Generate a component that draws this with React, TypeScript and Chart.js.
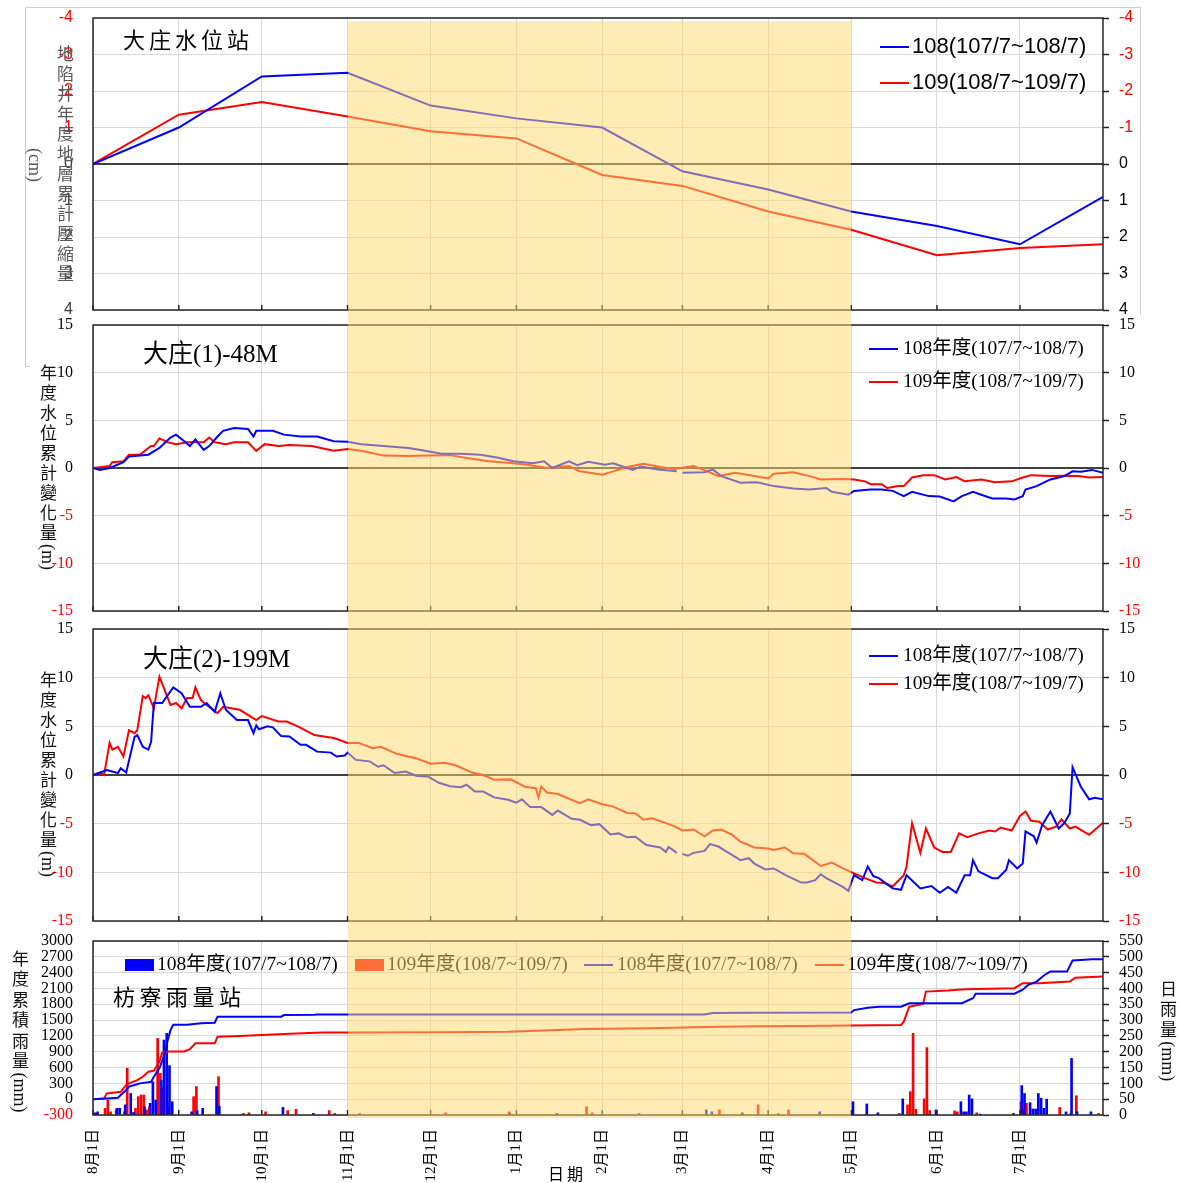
import React, { useEffect, useRef } from "react";
import { Chart, registerables } from "chart.js";

Chart.register(...registerables);

const SERIF = '"Liberation Serif", "Noto Sans CJK TC", serif';
const SANS = '"Liberation Sans", "Noto Sans CJK TC", sans-serif';
const CJK = '"Noto Sans CJK TC", "Liberation Serif", serif';

const BLUE = "#0000FF";
const RED = "#FF0000";
const GRID = "#d9d9d9";
const DARK = "#262626";

// ---- x axis (days counted from 8月1日) ----
const X_MAX = 365;
const monthTickDays = [0, 31, 61, 92, 122, 153, 184, 213, 244, 274, 305, 335];
const monthLabels = ["8月1日", "9月1日", "10月1日", "11月1日", "12月1日", "1月1日", "2月1日", "3月1日", "4月1日", "5月1日", "6月1日", "7月1日"];
const dryStartDay = 92; // 11月1日
const dryEndDay = 274; // 5月1日

// ---- Panel 1: 大庄水位站 地層累計壓縮量 (cm) ----
const subsDays = [0, 31, 61, 92, 122, 153, 184, 213, 244, 274, 305, 335, 365];
const subs108 = [0, -1.0, -2.4, -2.5, -1.6, -1.25, -1.0, 0.2, 0.7, 1.3, 1.7, 2.2, 0.9];
const subs109 = [0, -1.35, -1.7, -1.3, -0.9, -0.7, 0.3, 0.6, 1.3, 1.8, 2.5, 2.3, 2.2];

// ---- Panel 2: 大庄(1)-48M  [day, value] ----
const well48_108 = [[0, 0], [2.5, -0.2], [6, 0], [11, 0.6], [13, 1.2], [20, 1.4], [24, 2.1], [28, 3.2], [30, 3.5], [33, 2.8], [35, 2.3], [37, 3.0], [40, 1.9], [42, 2.3], [45, 3.3], [47, 3.9], [51, 4.2], [56, 4.1], [58, 3.3], [59, 3.9], [65, 3.9], [69, 3.5], [75, 3.3], [81, 3.3], [87, 2.8], [92, 2.75], [97, 2.5], [105, 2.3], [114, 2.1], [120, 1.8], [126, 1.5], [133, 1.5], [140, 1.4], [146, 1.1], [152, 0.7], [159, 0.5], [163, 0.7], [166, 0.0], [172, 0.7], [175, 0.3], [179, 0.65], [185, 0.35], [188, 0.5], [195, -0.2], [198, 0.15], [204, -0.15], [211, -0.35], [212, null], [213, -0.5], [221, -0.45], [224, -0.15], [227, -0.85], [234, -1.55], [240, -1.5], [246, -1.9], [253, -2.15], [259, -2.25], [265, -2.1], [267, -2.5], [273, -2.8], [275, -2.4], [281, -2.25], [285, -2.25], [289, -2.4], [293, -2.95], [296, -2.5], [302, -2.95], [306, -3.0], [311, -3.5], [314, -2.95], [318, -2.5], [321, -2.8], [325, -3.2], [330, -3.2], [333, -3.3], [336, -2.95], [337, -2.25], [341, -1.9], [346, -1.2], [349, -1.0], [351, -0.85], [354, -0.35], [357, -0.4], [361, -0.2], [365, -0.5]];
const well48_109 = [[0, 0], [6, 0.2], [7, 0.6], [11, 0.7], [13, 1.4], [17, 1.4], [21, 2.3], [22, 2.3], [24, 3.1], [27, 2.7], [30, 2.5], [34, 2.7], [40, 2.7], [42, 3.2], [44, 2.7], [48, 2.5], [51, 2.7], [56, 2.7], [59, 1.8], [62, 2.5], [67, 2.3], [71, 2.4], [79, 2.3], [87, 1.8], [92, 2.0], [97, 1.8], [105, 1.3], [114, 1.25], [121, 1.3], [129, 1.35], [135, 1.05], [143, 0.7], [150, 0.55], [157, 0.35], [164, 0.0], [172, 0.2], [176, -0.35], [184, -0.7], [188, -0.35], [193, 0.1], [199, 0.45], [205, 0.1], [210, -0.1], [217, 0.2], [222, -0.35], [226, -0.85], [232, -0.5], [239, -0.85], [244, -1.1], [246, -0.6], [253, -0.45], [259, -0.85], [263, -1.2], [271, -1.15], [275, -1.2], [279, -1.4], [281, -1.7], [285, -1.7], [287, -2.1], [291, -1.9], [293, -1.9], [296, -1.0], [300, -0.75], [304, -0.75], [308, -1.2], [312, -0.95], [315, -1.4], [321, -1.2], [326, -1.5], [332, -1.4], [336, -1.0], [339, -0.75], [346, -0.85], [351, -0.8], [356, -0.85], [360, -1.0], [365, -0.95]];

// ---- Panel 3: 大庄(2)-199M  [day, value] ----
const well199_108 = [[0, 0], [5, 0.5], [9, 0.2], [10, 0.7], [12, 0.25], [15, 3.9], [16, 4.1], [18, 2.9], [20, 2.6], [21, 3.4], [22, 7.4], [25, 7.4], [29, 9.0], [32, 8.4], [35, 7.0], [39, 7.0], [41, 7.4], [44, 6.5], [46, 8.4], [48, 6.7], [52, 5.65], [56, 5.65], [58, 4.3], [59, 5.1], [60, 4.7], [63, 5.0], [65, 4.9], [68, 4.0], [71, 3.95], [75, 3.1], [77, 3.1], [81, 2.4], [86, 2.3], [88, 1.9], [91, 2.0], [92, 2.3], [95, 1.55], [100, 1.4], [103, 0.85], [105, 1.0], [109, 0.2], [113, 0.35], [117, -0.1], [121, -0.15], [125, -0.8], [129, -1.15], [133, -1.25], [135, -1.0], [138, -1.7], [141, -1.7], [145, -2.3], [150, -2.55], [153, -2.85], [155, -2.5], [158, -3.3], [162, -3.3], [166, -4.1], [168, -3.65], [173, -4.5], [176, -4.6], [180, -5.15], [183, -5.05], [187, -6.1], [190, -6.0], [193, -6.4], [196, -6.35], [200, -7.2], [205, -7.45], [207, -7.9], [208, -7.4], [211, -8.0], [212, null], [213, -8.1], [215, -8.3], [217, -8.0], [221, -7.8], [223, -7.1], [226, -7.35], [230, -8.05], [234, -8.75], [237, -8.55], [239, -9.1], [243, -9.7], [246, -9.6], [251, -10.4], [256, -11.05], [258, -11.05], [261, -10.8], [263, -10.2], [265, -10.6], [271, -11.5], [273, -11.9], [275, -10.3], [278, -10.8], [280, -9.4], [282, -10.4], [284, -10.6], [289, -11.65], [292, -11.8], [294, -10.3], [299, -11.65], [303, -11.4], [306, -12.1], [309, -11.5], [312, -12.1], [315, -10.3], [317, -10.3], [318, -8.75], [320, -9.9], [325, -10.6], [327, -10.6], [330, -9.75], [331, -8.75], [334, -9.6], [336, -9.1], [337, -5.8], [340, -6.3], [341, -6.95], [343, -5.15], [346, -3.75], [349, -5.5], [351, -4.95], [353, -3.95], [354, 0.8], [357, -1.2], [360, -2.5], [362, -2.35], [365, -2.5]];
const well199_109 = [[0, 0], [2.5, 0.25], [4, 0], [6, 3.3], [7, 2.6], [9, 2.9], [11, 1.9], [13, 4.6], [15, 4.3], [16, 4.6], [18, 8.1], [19, 7.9], [20, 8.2], [22, 6.85], [24, 10.1], [28, 7.2], [30, 7.4], [32, 6.85], [34, 7.9], [36, 7.9], [37, 9.0], [39, 7.7], [41, 7.2], [45, 6.35], [47, 7.0], [53, 6.7], [59, 5.65], [61, 6.05], [67, 5.5], [70, 5.5], [74, 5.0], [80, 4.1], [87, 3.8], [92, 3.3], [96, 3.3], [101, 2.75], [104, 2.9], [110, 2.15], [117, 1.7], [122, 1.15], [127, 1.25], [131, 1.0], [137, 0.25], [141, 0], [145, -0.5], [151, -0.45], [156, -1.2], [160, -1.35], [161, -2.3], [162, -1.2], [164, -1.8], [168, -1.95], [173, -2.55], [176, -2.9], [179, -2.5], [184, -3.0], [188, -3.25], [193, -3.9], [196, -3.95], [199, -4.6], [202, -4.45], [207, -4.95], [210, -5.25], [213, -5.7], [217, -5.6], [221, -6.3], [224, -5.7], [227, -5.6], [231, -6.15], [234, -6.85], [239, -7.45], [244, -7.55], [246, -7.7], [250, -7.45], [253, -8.05], [257, -8.1], [263, -9.35], [267, -9.0], [271, -9.6], [275, -10.1], [279, -10.6], [283, -11.05], [286, -11.1], [289, -11.45], [293, -10.3], [294, -9.4], [296, -4.95], [299, -8.0], [301, -5.5], [304, -7.45], [307, -7.9], [310, -7.9], [313, -6.0], [316, -6.4], [320, -6.0], [324, -5.7], [326, -5.8], [328, -5.4], [332, -5.7], [335, -4.2], [337, -3.75], [339, -4.7], [342, -4.8], [345, -5.6], [348, -5.3], [350, -4.55], [353, -5.5], [355, -5.3], [360, -6.15], [362, -5.65], [365, -4.9]];

// ---- Panel 4: 枋寮雨量站 ----
const rainCum108 = [[0, 0], [5, 15], [9, 25], [10, 80], [12, 175], [13, 240], [15, 270], [17, 300], [20, 320], [21, 330], [22, 425], [24, 585], [26, 870], [27, 1120], [28, 1310], [29, 1410], [34, 1410], [39, 1440], [44, 1450], [45, 1565], [68, 1565], [69, 1595], [80, 1600], [81, 1605], [221, 1605], [224, 1635], [235, 1640], [274, 1645], [275, 1690], [280, 1735], [284, 1755], [292, 1755], [295, 1820], [314, 1820], [318, 1915], [319, 2000], [333, 2000], [336, 2075], [338, 2170], [341, 2230], [344, 2360], [346, 2420], [352, 2420], [354, 2630], [357, 2640], [361, 2655], [365, 2655]];
const rainCum109 = [[0, 0], [4, 15], [5, 110], [10, 140], [12, 270], [13, 300], [16, 360], [18, 425], [20, 520], [22, 540], [24, 710], [25, 885], [27, 905], [33, 905], [35, 950], [37, 1060], [44, 1060], [45, 1185], [53, 1200], [71, 1240], [83, 1265], [96, 1265], [126, 1270], [150, 1280], [178, 1330], [201, 1345], [226, 1375], [240, 1385], [256, 1390], [292, 1405], [293, 1470], [295, 1755], [300, 1805], [301, 2040], [309, 2060], [315, 2085], [333, 2105], [336, 2200], [342, 2200], [353, 2230], [355, 2305], [365, 2325]];
const rainDaily108 = [[1, 7], [2, 10], [9, 21], [10, 21], [12, 32], [14, 68], [15, 8], [19, 26], [21, 37], [22, 105], [23, 47], [25, 110], [26, 237], [27, 258], [28, 156], [29, 42], [36, 10], [38, 14], [40, 21], [45, 90], [46, 28], [69, 24], [80, 5], [151, 5], [168, 5], [222, 16], [224, 10], [235, 7], [248, 4], [263, 10], [275, 42], [280, 35], [284, 7], [293, 51], [305, 16], [314, 42], [315, 10], [316, 10], [317, 63], [318, 51], [321, 3], [333, 5], [336, 93], [337, 68], [339, 39], [340, 19], [341, 19], [342, 68], [343, 53], [344, 21], [345, 50], [352, 10], [354, 179], [356, 10], [361, 10]];
const rainDaily109 = [[1, 5], [4, 21], [5, 47], [6, 10], [8, 16], [11, 10], [12, 148], [15, 21], [16, 58], [17, 63], [18, 63], [19, 16], [20, 26], [23, 242], [24, 132], [25, 90], [27, 26], [36, 58], [37, 90], [45, 121], [54, 5], [56, 7], [62, 10], [70, 14], [73, 18], [85, 14], [87, 5], [96, 5], [127, 7], [150, 10], [178, 26], [180, 7], [197, 5], [226, 16], [240, 32], [251, 16], [291, 5], [294, 32], [295, 74], [296, 258], [297, 18], [300, 51], [301, 213], [302, 14], [311, 13], [312, 10], [319, 7], [335, 42], [336, 16], [337, 37], [349, 24], [353, 5], [355, 61], [363, 5], [365, 10]];

const pts = (pairs: any[]) => pairs.map(([x, y]) => ({ x, y }));

const framePlugin = {
  id: "frame",
  afterDatasetsDraw(chart: any) {
    const { ctx, chartArea: a, scales } = chart;
    ctx.save();
    ctx.strokeStyle = DARK;
    ctx.lineWidth = 1.5;
    ctx.strokeRect(a.left, a.top, a.right - a.left, a.bottom - a.top);
    monthTickDays.forEach((d) => {
      const x = scales.x.getPixelForValue(d);
      ctx.beginPath();
      ctx.moveTo(x, a.bottom);
      ctx.lineTo(x, a.bottom - 5);
      ctx.stroke();
    });
    ctx.restore();
  },
};

function xScale(showLabels: boolean, axisHeight: number) {
  return {
    type: "linear",
    min: 0,
    max: X_MAX,
    offset: false,
    afterBuildTicks: (s: any) => {
      s.ticks = monthTickDays.map((v) => ({ value: v }));
    },
    afterFit: (s: any) => {
      s.height = axisHeight;
      s.paddingLeft = 0;
      s.paddingRight = 0;
    },
    border: { display: false },
    grid: { color: GRID, lineWidth: 1, drawTicks: false, offset: false },
    ticks: showLabels
      ? {
          display: true,
          autoSkip: false,
          minRotation: 90,
          maxRotation: 90,
          padding: 14,
          color: "#000",
          font: { family: SERIF, size: 15 },
          callback: (v: any) => {
            const i = monthTickDays.indexOf(Number(v));
            return i >= 0 ? monthLabels[i] : "";
          },
        }
      : { display: false },
  };
}

function yScale(side: "left" | "right", min: number, max: number, step: number, o: any) {
  const left = side === "left";
  return {
    type: "linear",
    position: side,
    min,
    max,
    reverse: !!o.reverse,
    afterFit: (s: any) => {
      s.width = left ? 93 : 77;
      s.paddingTop = 0;
      s.paddingBottom = 0;
    },
    border: { display: false },
    grid: left
      ? {
          drawTicks: false,
          color: (c: any) => (o.zeroLine && c.tick && c.tick.value === 0 ? "#404040" : GRID),
          lineWidth: (c: any) => (o.zeroLine && c.tick && c.tick.value === 0 ? 2 : 1),
        }
      : { drawOnChartArea: false, drawTicks: true, tickLength: 6, tickColor: DARK, tickWidth: 1.5 },
    ticks: {
      stepSize: step,
      autoSkip: false,
      padding: left ? 20 : 10,
      font: { family: o.family, size: 16, lineHeight: 1 },
      color: (c: any) => (c.tick && c.tick.value < 0 ? RED : o.posColor || "#000"),
      callback: (v: any) => String(v),
    },
  };
}

function baseOptions(padTop: number, padBottom: number, scales: any) {
  return {
    animation: false,
    responsive: false,
    maintainAspectRatio: false,
    layout: { padding: { top: padTop, bottom: padBottom, left: 0, right: 0 } },
    plugins: { legend: { display: false }, tooltip: { enabled: false } },
    elements: { point: { radius: 0 }, line: { tension: 0 } },
    scales,
  };
}

function lineSet(label: string, data: any[], color: string, axis = "y") {
  return { type: "line", label, data, borderColor: color, backgroundColor: color, borderWidth: 2, pointRadius: 0, spanGaps: false, yAxisID: axis };
}

function cfgSubsidence(): any {
  return {
    type: "line",
    data: {
      datasets: [
        lineSet("108(107/7~108/7)", subsDays.map((d, i) => ({ x: d, y: subs108[i] })), BLUE),
        lineSet("109(108/7~109/7)", subsDays.map((d, i) => ({ x: d, y: subs109[i] })), RED),
      ],
    },
    options: baseOptions(18, 20, {
      x: xScale(false, 0),
      y: yScale("left", -4, 4, 1, { reverse: true, zeroLine: true, family: SANS, posColor: "#404040" }),
      y2: yScale("right", -4, 4, 1, { reverse: true, family: SANS, posColor: "#000" }),
    }),
    plugins: [framePlugin],
  };
}

function cfgWell(a: any[], b: any[], padTop: number, padBottom: number): any {
  return {
    type: "line",
    data: {
      datasets: [lineSet("108年度(107/7~108/7)", pts(a), BLUE), lineSet("109年度(108/7~109/7)", pts(b), RED)],
    },
    options: baseOptions(padTop, padBottom, {
      x: xScale(false, 0),
      y: yScale("left", -15, 15, 5, { zeroLine: true, family: SERIF }),
      y2: yScale("right", -15, 15, 5, { family: SERIF }),
    }),
    plugins: [framePlugin],
  };
}

function cfgRain(): any {
  const bar = (label: string, data: any[], color: string) => ({
    type: "bar",
    label,
    data: pts(data),
    backgroundColor: color,
    borderWidth: 0,
    barThickness: 2,
    yAxisID: "y2",
  });
  return {
    type: "line",
    data: {
      datasets: [
        lineSet("108年度(107/7~108/7)", pts(rainCum108), BLUE),
        lineSet("109年度(108/7~109/7)", pts(rainCum109), RED),
        bar("108年度(107/7~108/7)", rainDaily108, BLUE),
        bar("109年度(108/7~109/7)", rainDaily109, RED),
      ],
    },
    options: baseOptions(20, 0, {
      x: xScale(true, 68),
      y: yScale("left", -300, 3000, 300, { family: SERIF }),
      y2: yScale("right", 0, 550, 50, { family: SERIF }),
    }),
    plugins: [framePlugin],
  };
}

const abs = (s: React.CSSProperties): React.CSSProperties => ({ position: "absolute", whiteSpace: "nowrap", ...s });

function LineKey({ x, y, color, textX, text, font, size }: any) {
  return (
    <>
      <div style={abs({ left: x, top: y - 1, width: 29, height: 2, background: color })} />
      <div style={abs({ left: textX, top: y - size / 2 - 1, fontFamily: font, fontSize: size, lineHeight: `${size}px`, color: "#000" })}>{text}</div>
    </>
  );
}

function BoxKey({ x, y, color, textX, text }: any) {
  return (
    <>
      <div style={abs({ left: x, top: y - 6, width: 29, height: 12, background: color })} />
      <div style={abs({ left: textX, top: y - 11, fontFamily: SERIF, fontSize: 19.5, lineHeight: "20px", color: "#000" })}>{text}</div>
    </>
  );
}

function VText({ left, top, size, color, spacing, lineHeight, center, height, children }: any) {
  return (
    <div
      style={abs({
        left,
        top,
        height,
        writingMode: "vertical-rl",
        textAlign: center ? "center" : "left",
        fontFamily: CJK,
        fontSize: size,
        letterSpacing: spacing,
        lineHeight: `${lineHeight}px`,
        color,
      })}
    >
      {children}
    </div>
  );
}

const Unit = ({ children }: any) => <span style={{ letterSpacing: 0, fontFamily: SERIF, fontSize: 18 }}>{children}</span>;

export default function App() {
  const c1 = useRef<HTMLCanvasElement>(null);
  const c2 = useRef<HTMLCanvasElement>(null);
  const c3 = useRef<HTMLCanvasElement>(null);
  const c4 = useRef<HTMLCanvasElement>(null);
  const bandRef = useRef<HTMLDivElement>(null);

  useEffect(() => {
    const charts = [
      new Chart(c1.current as any, cfgSubsidence()),
      new Chart(c2.current as any, cfgWell(well48_108, well48_109, 20, 20)),
      new Chart(c3.current as any, cfgWell(well199_108, well199_109, 20, 20)),
      new Chart(c4.current as any, cfgRain()),
    ];
    const xs: any = charts[3].scales.x;
    const l = xs.getPixelForValue(dryStartDay);
    const r = xs.getPixelForValue(dryEndDay);
    if (bandRef.current) {
      bandRef.current.style.left = `${l}px`;
      bandRef.current.style.width = `${r - l}px`;
    }
    return () => charts.forEach((c) => c.destroy());
  }, []);

  const canvasStyle = (top: number, h: number): React.CSSProperties => ({ position: "absolute", left: 0, top, width: 1180, height: h });

  return (
    <div style={{ position: "absolute", left: 0, top: 0, width: 1180, height: 1183, background: "#fff", overflow: "hidden" }}>
      {/* light frame of the first sheet */}
      <div style={abs({ left: 25, top: 7, width: 1115, height: 0, borderTop: "1px solid #d0d0d0" })} />
      <div style={abs({ left: 1140, top: 7, width: 0, height: 308, borderLeft: "1px solid #d0d0d0" })} />
      <div style={abs({ left: 25, top: 7, width: 0, height: 359, borderLeft: "1px solid #d0d0d0" })} />
      <div style={abs({ left: 25, top: 366, width: 5, height: 0, borderTop: "1px solid #d0d0d0" })} />

      <canvas ref={c1} width={1180} height={330} style={canvasStyle(0, 330)} />
      <canvas ref={c2} width={1180} height={326} style={canvasStyle(305, 326)} />
      <canvas ref={c3} width={1180} height={332} style={canvasStyle(609, 332)} />
      <canvas ref={c4} width={1180} height={262} style={canvasStyle(921, 262)} />

      {/* panel titles */}
      <div style={abs({ left: 123, top: 27, fontFamily: CJK, fontSize: 22, lineHeight: "22px", letterSpacing: 4, color: "#000" })}>大庄水位站</div>
      <div style={abs({ left: 143, top: 341, fontFamily: SERIF, fontSize: 25, lineHeight: "25px", color: "#000" })}>大庄(1)-48M</div>
      <div style={abs({ left: 143, top: 646, fontFamily: SERIF, fontSize: 25, lineHeight: "25px", color: "#000" })}>大庄(2)-199M</div>
      <div style={abs({ left: 113, top: 984, fontFamily: CJK, fontSize: 22, lineHeight: "22px", letterSpacing: 4.5, color: "#000" })}>枋寮雨量站</div>

      {/* axis titles */}
      <VText left={20} top={40} height={250} center size={17} color="#595959" spacing={3} lineHeight={30}>
        地陷井年度地層累計壓縮量<br /><Unit>(cm)</Unit>
      </VText>
      <VText left={38} top={364} size={17} color="#111" spacing={3} lineHeight={20}>
        年度水位累計變化量<Unit>(m)</Unit>
      </VText>
      <VText left={38} top={671} size={17} color="#111" spacing={3} lineHeight={20}>
        年度水位累計變化量<Unit>(m)</Unit>
      </VText>
      <VText left={10} top={950} size={17} color="#111" spacing={3.4} lineHeight={20}>
        年度累積雨量<Unit>(mm)</Unit>
      </VText>
      <VText left={1158} top={980} size={17} color="#111" spacing={3.4} lineHeight={20}>
        日雨量<Unit>(mm)</Unit>
      </VText>
      <div style={abs({ left: 548, top: 1165, fontFamily: CJK, fontSize: 16, lineHeight: "16px", letterSpacing: 3, color: "#000" })}>日期</div>

      {/* legends */}
      <LineKey x={880} y={47} color={BLUE} textX={912} text="108(107/7~108/7)" font={SANS} size={22} />
      <LineKey x={880} y={83} color={RED} textX={912} text="109(108/7~109/7)" font={SANS} size={22} />
      <LineKey x={869} y={349} color={BLUE} textX={903} text="108年度(107/7~108/7)" font={SERIF} size={19.5} />
      <LineKey x={869} y={382} color={RED} textX={903} text="109年度(108/7~109/7)" font={SERIF} size={19.5} />
      <LineKey x={869} y={656} color={BLUE} textX={903} text="108年度(107/7~108/7)" font={SERIF} size={19.5} />
      <LineKey x={869} y={684} color={RED} textX={903} text="109年度(108/7~109/7)" font={SERIF} size={19.5} />
      <BoxKey x={125} y={965} color={BLUE} textX={157} text="108年度(107/7~108/7)" />
      <BoxKey x={355} y={965} color={RED} textX={387} text="109年度(108/7~109/7)" />
      <LineKey x={584} y={965} color={BLUE} textX={617} text="108年度(107/7~108/7)" font={SERIF} size={19.5} />
      <LineKey x={815} y={965} color={RED} textX={847} text="109年度(108/7~109/7)" font={SERIF} size={19.5} />

      {/* dry season band (11月1日 ~ 5月1日), placed from the x scale */}
      <div ref={bandRef} style={abs({ top: 21, height: 1097, background: "rgba(255,216,108,0.51)", zIndex: 10, pointerEvents: "none" })} />
    </div>
  );
}
